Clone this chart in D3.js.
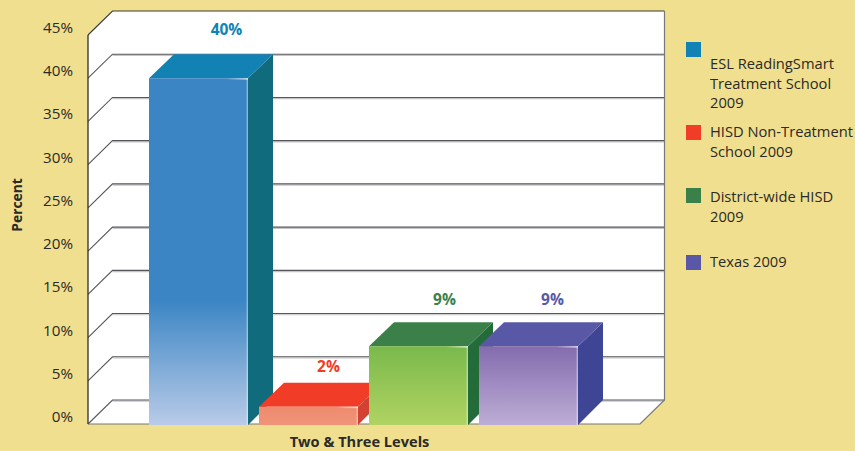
<!DOCTYPE html>
<html>
<head>
<meta charset="utf-8">
<script src="https://cdn.jsdelivr.net/npm/d3@7"></script>
<style>
  html, body { margin: 0; padding: 0; background: #f0df8e; }
  svg { display: block; }
  text { font-family: "Open Sans", sans-serif; fill: #2b2a26; }
</style>
</head>
<body>
<svg id="chart" width="855" height="451"></svg>
<script>
const categories = ["ESL ReadingSmart Treatment School 2009", "HISD Non-Treatment School 2009", "District-wide HISD 2009", "Texas 2009"];
const values = [40, 2, 9, 9];
const yTicks = [0, 5, 10, 15, 20, 25, 30, 35, 40, 45];
const xLabel = "Two & Three Levels";
const yLabel = "Percent";
const legendLines = [["ESL ReadingSmart", "Treatment School", "2009"], ["HISD Non-Treatment", "School 2009"], ["District-wide HISD", "2009"], ["Texas 2009"]];

const topColors = ["#1282b5", "#f13c27", "#3b8048", "#5858a6"];
const sideColors = ["#106b7c", "#d34132", "#236c3a", "#3f4595"];
const gradTop = ["#3b85c4", "#ee8a6e", "#7ab94c", "#846cae"];
const gradBottom = ["#b9cbe8", "#f09478", "#b0d362", "#bdadd6"];

const svg = d3.select("#chart");
const wallDepthX = 24.5, depthY = 24, barDepthX = 25;

const yScale = d3.scaleLinear().domain([0, 45]).range([424, 35]);
const xScale = d3.scaleBand().domain(categories).range([149, 578]).paddingInner(0.1).paddingOuter(0);
const left = 88, right = 640;
const poly = d3.line();

// walls and floor
svg.append("path")
    .attr("d", poly([[left, yScale(45)], [left + wallDepthX, yScale(45) - depthY], [right + wallDepthX, yScale(45) - depthY],
        [right + wallDepthX, yScale(0) - depthY], [right, yScale(0)], [left, yScale(0)]]) + "Z")
    .attr("fill", "#fff");

// gridlines, with the pale shadow under each back line
const grid = svg.append("g");
yTicks.forEach(function(t) {
    const y = yScale(t);
    if (t < 45) {
        grid.append("line").attr("x1", left + wallDepthX).attr("x2", right + wallDepthX)
            .attr("y1", y - depthY + 1.2).attr("y2", y - depthY + 1.2)
            .attr("stroke", "#c4c4c6").attr("stroke-width", 1.2);
    }
    grid.append("path")
        .attr("d", poly([[left, y], [left + wallDepthX, y - depthY], [right + wallDepthX, y - depthY]]))
        .attr("fill", "none").attr("stroke", t == 45 ? "#3a3a36" : "#55565a").attr("stroke-width", 1.1);
});
grid.append("path")
    .attr("d", poly([[right + wallDepthX, yScale(45) - depthY], [right + wallDepthX, yScale(0) - depthY], [right, yScale(0)], [left, yScale(0)]]))
    .attr("fill", "none").attr("stroke", "#77787a").attr("stroke-width", 1.2);
grid.append("line").attr("x1", left).attr("x2", left).attr("y1", yScale(45)).attr("y2", yScale(0))
    .attr("stroke", "#2e2e2c").attr("stroke-width", 1.3);

// gradients for the front faces and the highlight
const defs = svg.append("defs");
categories.forEach(function(c, i) {
    const g = defs.append("linearGradient").attr("id", "front" + i)
        .attr("x1", 0).attr("x2", 0).attr("y1", 0).attr("y2", 1);
    g.append("stop").attr("offset", i == 0 ? 0.64 : 0).attr("stop-color", gradTop[i]);
    g.append("stop").attr("offset", 1).attr("stop-color", gradBottom[i]);
});
const shine = defs.append("linearGradient").attr("id", "shine");
shine.append("stop").attr("offset", 0).attr("stop-color", "#fff").attr("stop-opacity", 0);
shine.append("stop").attr("offset", 1).attr("stop-color", "#fff").attr("stop-opacity", 0.75);

// bars
const bars = svg.append("g").selectAll("g").data(categories).join("g");
const base = yScale(0) + 1;
const w = xScale.bandwidth();

bars.append("path").attr("fill", (d, i) => sideColors[i])
    .attr("d", function(d, i) {
        const x = xScale(d) + w, y = yScale(values[i]);
        return poly([[x, y], [x + barDepthX, y - depthY], [x + barDepthX, base - depthY - 1], [x, base]]) + "Z";
    });
bars.append("path").attr("fill", (d, i) => topColors[i])
    .attr("d", function(d, i) {
        const x = xScale(d), y = yScale(values[i]);
        return poly([[x, y], [x + barDepthX, y - depthY], [x + w + barDepthX, y - depthY], [x + w, y]]) + "Z";
    });
bars.append("rect")
    .attr("x", d => xScale(d))
    .attr("y", (d, i) => yScale(values[i]))
    .attr("width", w)
    .attr("height", (d, i) => base - yScale(values[i]))
    .attr("fill", (d, i) => "url(#front" + i + ")");

// highlight along the top right corner of each front face
bars.append("rect")
    .attr("x", d => xScale(d) + w - 22)
    .attr("y", (d, i) => yScale(values[i]))
    .attr("width", 22).attr("height", 1.4)
    .attr("fill", "url(#shine)");
bars.append("rect")
    .attr("x", d => xScale(d) + w - 1.4)
    .attr("y", (d, i) => yScale(values[i]))
    .attr("width", 1.4)
    .attr("height", (d, i) => base - yScale(values[i]))
    .attr("fill", "#fff").attr("fill-opacity", 0.4);

// value labels sit by hand in the original, so each one gets its own nudge
const labelNudgeX = [0, -8, -2, -4];
const labelNudgeY = [-1, 7, 1, 1];
bars.append("text")
    .attr("x", (d, i) => xScale(d) + w / 2 + 28 + labelNudgeX[i])
    .attr("y", (d, i) => yScale(values[i]) - 42 + labelNudgeY[i])
    .attr("text-anchor", "middle")
    .attr("font-size", 15.5).attr("font-weight", 700)
    .style("fill", (d, i) => topColors[i])
    .text((d, i) => values[i] + "%");

// y axis
const yAxis = d3.axisLeft(yScale).tickValues(yTicks).tickSize(0).tickPadding(15).tickFormat(d => d + "%");
const ag = svg.append("g").attr("transform", "translate(" + left + ",-4)").call(yAxis);
ag.select(".domain").remove();
ag.selectAll("text").attr("font-size", 15.2).attr("font-family", null).attr("dy", "0.1em");

svg.append("text")
    .attr("transform", "translate(22,205) rotate(-90)")
    .attr("text-anchor", "middle").attr("font-size", 13.8).attr("font-weight", 700)
    .text(yLabel);
svg.append("text").attr("x", 359.5).attr("y", 446.6)
    .attr("text-anchor", "middle").attr("font-size", 14.6).attr("font-weight", 700)
    .text(xLabel);

// legend
const swatchTops = [42, 125, 188, 255];
const lineOneY = [69, 137, 202, 267];
const legend = svg.append("g").selectAll("g").data(categories).join("g");
legend.append("rect").attr("x", 686).attr("y", (d, i) => swatchTops[i])
    .attr("width", 15).attr("height", 15).attr("fill", (d, i) => topColors[i]);
legend.append("text").attr("font-size", 14.7)
    .attr("y", (d, i) => lineOneY[i])
    .selectAll("tspan").data((d, i) => legendLines[i]).join("tspan")
    .attr("x", 710).attr("dy", (d, j) => j == 0 ? 0 : 19.7)
    .text(d => d);
</script>
</body>
</html>
